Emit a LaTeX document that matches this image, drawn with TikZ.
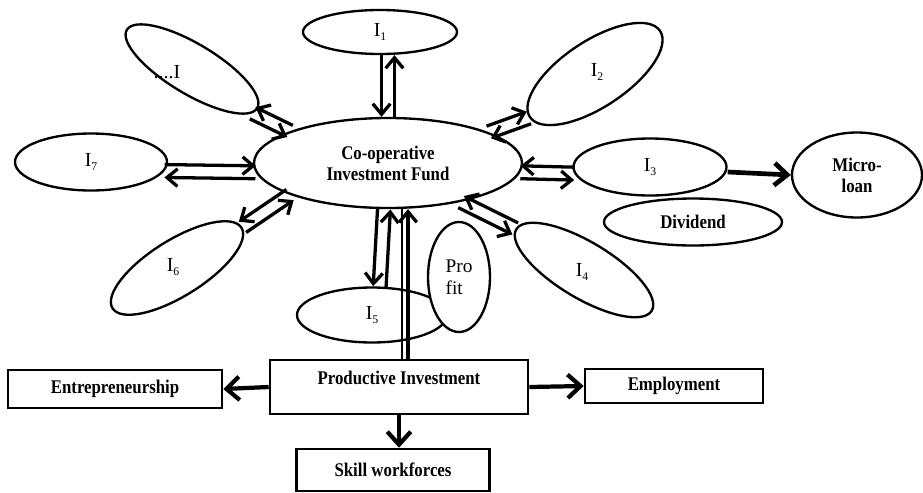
\documentclass[tikz,border=0pt]{standalone}
\usepackage{fontspec}
\setmainfont{Liberation Serif}
\newfontfamily\narrowfont{Liberation Serif}[FakeStretch=0.87]
\usetikzlibrary{shapes.geometric,arrows.meta,calc}

\newcommand{\isub}[1]{\raisebox{-0.5ex}{\fontsize{10}{10}\selectfont #1}}

\tikzset{
  oval/.style={ellipse, draw, line width=2pt, inner sep=0pt, fill=white},
  ilabel/.style={font=\fontsize{17}{19}\selectfont},
  lbl/.style={font=\narrowfont\bfseries\fontsize{16.5}{18}\selectfont, align=center},
  box/.style={rectangle, draw, line width=2.2pt, inner sep=0pt},
  arr/.style={line width=2.8pt, -{Straight Barb[length=9pt,width=15pt]}},
  bigarr/.style={line width=3.6pt, -{Straight Barb[length=11pt,width=20pt]}},
  thickarr/.style={line width=4pt, -{Straight Barb[length=11pt,width=19pt]}},
  thinline/.style={line width=2pt}
}

\begin{document}
\begin{tikzpicture}[x=0.03cm, y=-0.03cm]
  \useasboundingbox (0,0) rectangle (923,492);

  % the fund in the middle
  \node[oval, lbl, minimum width=8.04cm, minimum height=2.7cm] (fund) at (388,163) {Co-operative\\Investment Fund};

  % ovals round it
  \node[oval, ilabel, minimum width=4.62cm, minimum height=1.32cm] (i1) at (380,32) {I\isub1};
  \node[oval, minimum width=4.56cm, minimum height=1.5cm, rotate=-31] (idots) at (192,69) {};
  \node[ilabel] (idotsl) at (167,72) {....I};
  \node[oval, minimum width=4.68cm, minimum height=1.98cm, rotate=33.5] (i2) at (595,74) {};
  \node[ilabel] (i2l) at (597,72) {I\isub2};
  \node[oval, ilabel, minimum width=4.59cm, minimum height=1.71cm] (i3) at (650,167) {I\isub3};
  \node[oval, lbl, minimum width=3.9cm, minimum height=2.55cm] (micro) at (857,175) {Micro-\\loan};
  \node[oval, lbl, minimum width=5.34cm, minimum height=1.41cm] (div) at (693,222) {Dividend};
  \node[oval, minimum width=4.74cm, minimum height=1.68cm, rotate=-31] (i4) at (584,270) {};
  \node[ilabel] (i4l) at (582,272) {I\isub4};
  \node[oval, ilabel, minimum width=4.5cm, minimum height=1.65cm] (i5) at (372,315) {I\isub5};
  \node[oval, font=\fontsize{16.5}{19}\selectfont, align=left, minimum width=1.86cm, minimum height=3.3cm] (profit) at (459,277) {Pro\\fit};
  \node[oval, minimum width=4.56cm, minimum height=1.68cm, rotate=32] (i6) at (177,268) {};
  \node[ilabel] (i6l) at (173,267) {I\isub6};
  \node[oval, ilabel, minimum width=4.56cm, minimum height=1.71cm] (i7) at (91,162) {I\isub7};

  % boxes at the bottom
  \node[box, lbl, minimum width=6.42cm, minimum height=1.14cm] (ent) at (115,389) {Entrepreneurship};
  \node[box, lbl, minimum width=7.74cm, text height=21pt, text depth=25pt] (pi) at (399,387) {Productive Investment};
  \node[box, lbl, minimum width=5.34cm, minimum height=1.02cm] (emp) at (674,386) {Employment};
  \node[box, lbl, minimum width=5.79cm, minimum height=1.26cm] (skill) at (393,470) {Skill workforces};

  % two-way links, one line each way
  \foreach \p/\q/\a in {fund.162/idots.-5/270, fund.north/fund.north|-i1.south/270,
      fund.17/i2.west/90, fund.-4/i3.185/270, fund.-28/i4.west/270,
      fund.265/i5.75/270, fund.198/i6.east/270, fund.184/i7.-7/90}
  {
    \draw[arr] ($(\p)!5.5pt!\a:(\q)$) -- ($(\q)!5.5pt!-\a:(\p)$);
    \draw[arr] ($(\q)!5.5pt!\a:(\p)$) -- ($(\p)!5.5pt!-\a:(\q)$);
  }

  \draw[thickarr] ($(i3.east)+(0,5)$) -- (micro.west);
  % profit line back up to the fund
  \draw[thinline] ($(pi.north)+(3,0)$) -- ($(pi.north |- fund.south)+(3,0)$);
  \draw[arr] ($(pi.north)+(9,0)$) -- ($(pi.north |- fund.south)+(9,0)$);

  \draw[bigarr] (pi.west) -- (ent.east);
  \draw[bigarr] (pi.east) -- (emp.west);
  \draw[bigarr] (pi.south) -- (pi.south |- skill.north);
\end{tikzpicture}
\end{document}
